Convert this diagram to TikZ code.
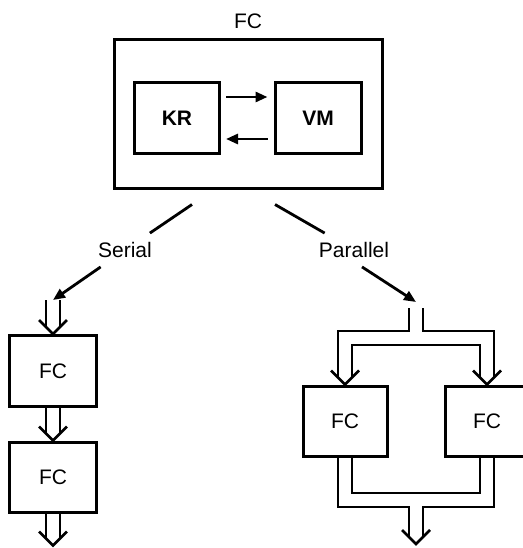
\documentclass[tikz,border=0pt]{standalone}
\usepackage{fontspec}
\setmainfont{Liberation Sans}
\usetikzlibrary{positioning,arrows.meta,calc,backgrounds}

\begin{document}
\begin{tikzpicture}[
   x=1pt, y=-1pt,
   font=\fontsize{21}{25}\selectfont,
   box/.style={draw,line width=3pt,inner sep=0pt,minimum width=86pt,minimum height=71pt},
   lbl/.style={inner sep=9pt},
   sarrow/.style={line width=2.8pt,-{Triangle[length=12pt,width=10pt]}},
   pipe/.style={draw,line width=2.5pt,double distance=11.5pt,line join=miter},
   pics/vhead/.style={code={\draw[line width=2.5pt] (-14pt,14pt) -- (0pt,0pt) -- (14pt,14pt);}},
]
\useasboundingbox (0,0) rectangle (522,548);

% upper FC with KR and VM
\node[box,minimum width=268pt,minimum height=148pt] (fcout) at (248,114) {};
\node[above=10pt of fcout,inner sep=0pt] (fctitle) {FC};
\node[box,minimum width=85pt] (kr) at (177,118) {\bfseries KR};
\node[box] (vm) at (318,118) {\bfseries VM};

\draw[sarrow,shorten <=5pt,shorten >=6pt] ([yshift=21pt]kr.east) -- ([yshift=21pt]vm.west);
\draw[sarrow,shorten <=6pt,shorten >=5pt] ([yshift=-21pt]vm.west) -- ([yshift=-21pt]kr.east);

% branch labels
\coordinate (serfrom) at ($(fcout.south)+(-56,15)$);
\coordinate (parfrom) at ($(fcout.south)+(27,15)$);
\node[lbl] (ser) at (125,250) {Serial};
\node[lbl] (par) at (354,250) {Parallel};

% serial chain
\node[box,minimum width=87pt] (s1) at (53,371) {FC};
\node[box,minimum width=87pt,minimum height=70pt] (s2) at (53,477) {FC};
\coordinate (serin) at ($(s1.north)+(0,-34)$);
\coordinate (sout) at ($(s2.south)+(0,32)$);

% parallel pair
\node[box,minimum width=84pt,minimum height=70pt] (p1) at (345,421) {FC};
\node[box,minimum width=84pt,minimum height=70pt] (p2) at (487,421) {FC};
\coordinate (pin) at (416,308);
\coordinate (psplit) at (416,338);
\coordinate (pmerge) at (416,500);
\coordinate (pout) at ($(pmerge)+(0,44)$);

% thin arrows
\draw[line width=2.8pt] (serfrom) -- (ser);
\draw[sarrow] (ser) -- (serin);
\draw[line width=2.8pt] (parfrom) -- (par);
\draw[sarrow] ([xshift=8pt]par.south) -- ([yshift=6pt]pin);

% hollow pipes
\begin{scope}[on background layer]
\draw[pipe] (serin) -- ([yshift=7pt]s1.north);
\draw[pipe] (s1.south) -- ([yshift=7pt]s2.north);
\draw[pipe] (s2.south) -- ([yshift=7pt]sout);
\draw[pipe] (pin) -- (psplit)
   ([yshift=7pt]p1.north) -- (p1.north |- psplit) -- (p2.north |- psplit) -- ([yshift=7pt]p2.north);
\draw[pipe] (p1.south) -- (p1.south |- pmerge) -- (p2.south |- pmerge) -- (p2.south)
   (pmerge) -- ([yshift=7pt]pout);
\end{scope}
\foreach \t in {s1.north,s2.north,sout,p1.north,p2.north,pout}
   \pic at (\t) {vhead};

\end{tikzpicture}
\end{document}
